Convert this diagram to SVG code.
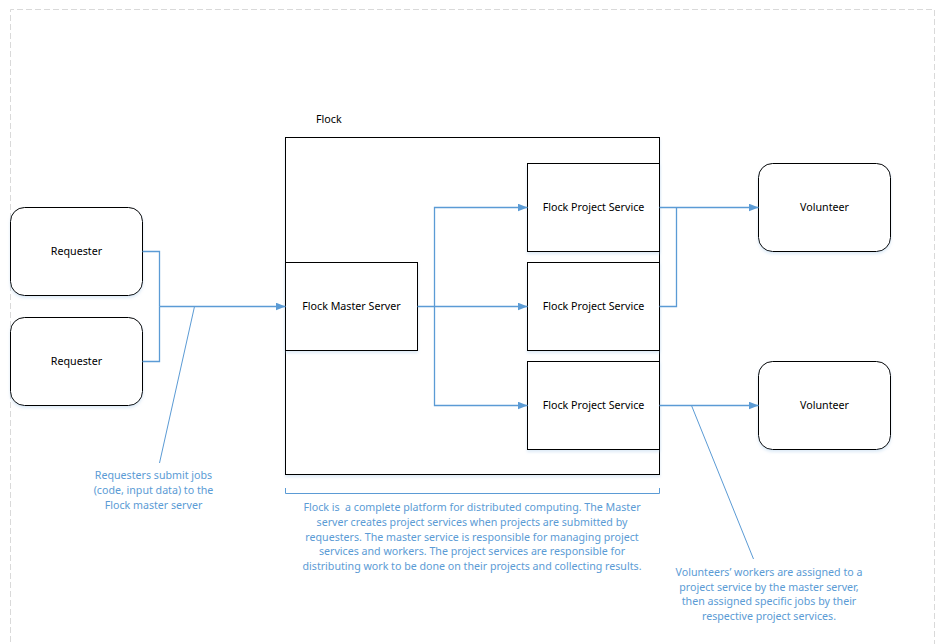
<svg xmlns="http://www.w3.org/2000/svg" width="948" height="644" viewBox="0 0 948 644">
  <style>
    .box { fill: #ffffff; stroke: #000000; stroke-width: 1; }
    .lbl { font-family: "Noto Sans", "Open Sans", "DejaVu Sans", sans-serif; font-size: 10.7px; fill: #000000; text-anchor: middle; }
    .note { font-family: "Noto Sans", "Open Sans", "DejaVu Sans", sans-serif; font-size: 10.65px; fill: #5b9bd5; text-anchor: middle; }
    .conn { fill: none; stroke: #5b9bd5; stroke-width: 1.3; }
    .callout { fill: none; stroke: #5b9bd5; stroke-width: 1; }
    .page { fill: none; stroke: #d9d9d9; stroke-width: 1; stroke-dasharray: 6 3; }
  </style>
  <defs>
    <marker id="arrow" viewBox="0 0 10 8" refX="10" refY="4" markerWidth="10" markerHeight="8" markerUnits="userSpaceOnUse" orient="auto">
      <path d="M0,0 L10,4 L0,8 Z" fill="#5b9bd5"/>
    </marker>
    <filter id="shadow" x="-10%" y="-10%" width="120%" height="125%">
      <feDropShadow dx="0" dy="2" stdDeviation="1.5" flood-color="#9dc3e6" flood-opacity="0.35"/>
    </filter>
  </defs>
  <rect width="948" height="644" fill="#ffffff"/>
  <path class="page" d="M10.5,660 L10.5,9.5 L934.5,9.5 L934.5,660"/>

  <g id="flock">
    <rect class="box" x="285.5" y="137.5" width="374" height="337" filter="url(#shadow)"/>
    <text class="lbl" x="316" y="123" style="text-anchor:start">Flock</text>
  </g>

  <g id="requester1">
    <rect class="box" x="10.5" y="207.5" width="132" height="88" rx="14" filter="url(#shadow)"/>
    <text class="lbl" x="76.5" y="255">Requester</text>
  </g>
  <g id="requester2">
    <rect class="box" x="10.5" y="317.5" width="132" height="88" rx="14" filter="url(#shadow)"/>
    <text class="lbl" x="76.5" y="365">Requester</text>
  </g>

  <g id="master">
    <rect class="box" x="285.5" y="262.5" width="132" height="88" filter="url(#shadow)"/>
    <text class="lbl" x="351.5" y="310">Flock Master Server</text>
  </g>

  <g id="project1">
    <rect class="box" x="527.5" y="163.5" width="132" height="88" filter="url(#shadow)"/>
    <text class="lbl" x="593.5" y="211">Flock Project Service</text>
  </g>
  <g id="project2">
    <rect class="box" x="527.5" y="262.5" width="132" height="88" filter="url(#shadow)"/>
    <text class="lbl" x="593.5" y="310">Flock Project Service</text>
  </g>
  <g id="project3">
    <rect class="box" x="527.5" y="361.5" width="132" height="88" filter="url(#shadow)"/>
    <text class="lbl" x="593.5" y="409">Flock Project Service</text>
  </g>

  <g id="volunteer1">
    <rect class="box" x="758.5" y="163.5" width="132" height="88" rx="14" filter="url(#shadow)"/>
    <text class="lbl" x="824.5" y="211">Volunteer</text>
  </g>
  <g id="volunteer2">
    <rect class="box" x="758.5" y="361.5" width="132" height="88" rx="14" filter="url(#shadow)"/>
    <text class="lbl" x="824.5" y="409">Volunteer</text>
  </g>

  <g id="connectors">
    <path class="conn" d="M142.5,251.5 H159.5 V306.5"/>
    <path class="conn" d="M142.5,361.5 H159.5 V306.5"/>
    <path class="conn" d="M159.5,306.5 H285.5" marker-end="url(#arrow)"/>
    <path class="conn" d="M417.5,306.5 H527.5" marker-end="url(#arrow)"/>
    <path class="conn" d="M434.5,306.5 V207.5 H527.5" marker-end="url(#arrow)"/>
    <path class="conn" d="M434.5,306.5 V405.5 H527.5" marker-end="url(#arrow)"/>
    <path class="conn" d="M659.5,207.5 H758.5" marker-end="url(#arrow)"/>
    <path class="conn" d="M659.5,306.5 H676.5 V207.5"/>
    <path class="conn" d="M659.5,405.5 H758.5" marker-end="url(#arrow)"/>
    <path class="callout" d="M194.5,306.5 L159.5,463"/>
    <path class="callout" d="M691.5,405.5 L753.5,559"/>
    <path class="callout" d="M285.5,488 V493.5 H659.5 V488"/>
  </g>

  <g id="note-requesters">
    <text class="note" x="153.5" y="479">Requesters submit jobs</text>
    <text class="note" x="153.5" y="494">(code, input data) to the</text>
    <text class="note" x="153.5" y="509">Flock master server</text>
  </g>
  <g id="note-flock">
    <text class="note" x="472" y="511" xml:space="preserve">Flock is  a complete platform for distributed computing. The Master</text>
    <text class="note" x="472" y="526">server creates project services when projects are submitted by</text>
    <text class="note" x="472" y="541">requesters. The master service is responsible for managing project</text>
    <text class="note" x="472" y="555">services and workers. The project services are responsible for</text>
    <text class="note" x="472" y="570">distributing work to be done on their projects and collecting results.</text>
  </g>
  <g id="note-volunteers">
    <text class="note" x="769" y="576">Volunteers’ workers are assigned to a</text>
    <text class="note" x="769" y="591">project service by the master server,</text>
    <text class="note" x="769" y="605">then assigned specific jobs by their</text>
    <text class="note" x="769" y="620">respective project services.</text>
  </g>
</svg>
